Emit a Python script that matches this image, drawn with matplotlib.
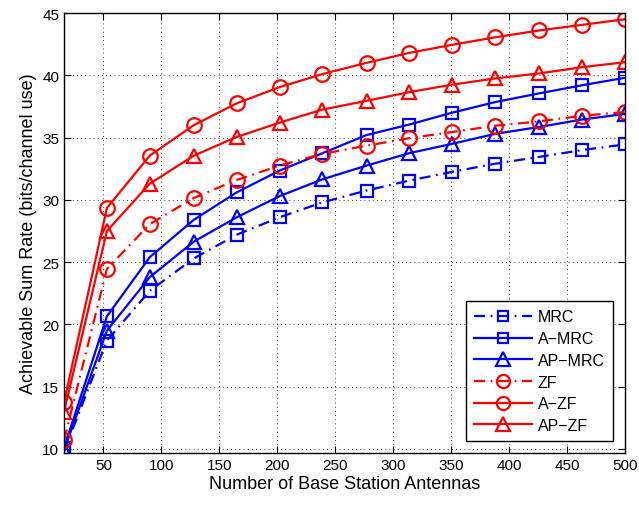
import numpy as np
import matplotlib.pyplot as plt

plt.rcParams['font.family'] = ['Liberation Sans', 'DejaVu Sans']

antennas = [16, 53, 90, 128, 165, 202, 239, 277, 314, 351, 388, 426, 463, 500]

mrc    = [9.8, 18.7, 22.7, 25.3, 27.2, 28.6, 29.8, 30.75, 31.55, 32.25, 32.9, 33.45, 34.0, 34.45]
a_mrc  = [10.1, 20.65, 25.4, 28.4, 30.6, 32.35, 33.75, 35.2, 36.05, 37.0, 37.85, 38.55, 39.2, 39.8]
ap_mrc = [9.9, 19.5, 23.8, 26.65, 28.6, 30.3, 31.65, 32.75, 33.75, 34.5, 35.3, 35.85, 36.45, 36.9]
zf     = [10.7, 24.45, 28.05, 30.15, 31.6, 32.75, 33.7, 34.35, 34.95, 35.45, 35.95, 36.3, 36.75, 37.05]
a_zf   = [13.75, 29.35, 33.55, 36.0, 37.75, 39.05, 40.1, 41.0, 41.8, 42.45, 43.05, 43.6, 44.05, 44.5]
ap_zf  = [13.0, 27.5, 31.3, 33.55, 35.05, 36.2, 37.25, 37.95, 38.65, 39.25, 39.75, 40.15, 40.65, 41.05]

dashdot = (0, (5, 2.5, 0.8, 2.5))

fig = plt.figure(figsize=(6.39, 5.06), dpi=100)
ax = fig.add_axes([0.1002, 0.1028, 0.8778, 0.8695])

kw = dict(lw=1.6, mew=1.6, mfc='none')
ax.plot(antennas, mrc, color='b', marker='s', ms=8.5, ls=dashdot, label='MRC', **kw)
ax.plot(antennas, a_mrc, color='b', marker='s', ms=8.5, ls='-', label='A\u2212MRC', **kw)
ax.plot(antennas, ap_mrc, color='b', marker='^', ms=10.5, ls='-', label='AP\u2212MRC', **kw)
ax.plot(antennas, zf, color='r', marker='o', ms=10.5, ls=dashdot, label='ZF', **kw)
ax.plot(antennas, a_zf, color='r', marker='o', ms=10.5, ls='-', label='A\u2212ZF', **kw)
ax.plot(antennas, ap_zf, color='r', marker='^', ms=10.5, ls='-', label='AP\u2212ZF', **kw)

ax.set_xlim(16, 500)
ax.set_ylim(9.68, 45)
ax.set_xticks(np.arange(50, 501, 50))
ax.set_yticks(np.arange(10, 46, 5))
ax.tick_params(direction='in', top=True, right=True, labelsize=11, length=5)
ax.grid(True, color='k', ls=(0, (1, 4)), lw=0.6)
for s in ax.spines.values():
    s.set_linewidth(1.0)

ax.set_xlabel('Number of Base Station Antennas', fontsize=13, labelpad=2)
ax.set_ylabel('Achievable Sum Rate (bits/channel use)', fontsize=13, labelpad=4)

leg = ax.legend(loc='lower right', fontsize=11.5, handlelength=3.6, fancybox=False,
                framealpha=1, edgecolor='k', borderaxespad=0.75, markerscale=0.9,
                labelspacing=0.42, handletextpad=0.4, borderpad=0.5)
leg.get_frame().set_linewidth(1.0)

fig.savefig('out.png', dpi=100)
